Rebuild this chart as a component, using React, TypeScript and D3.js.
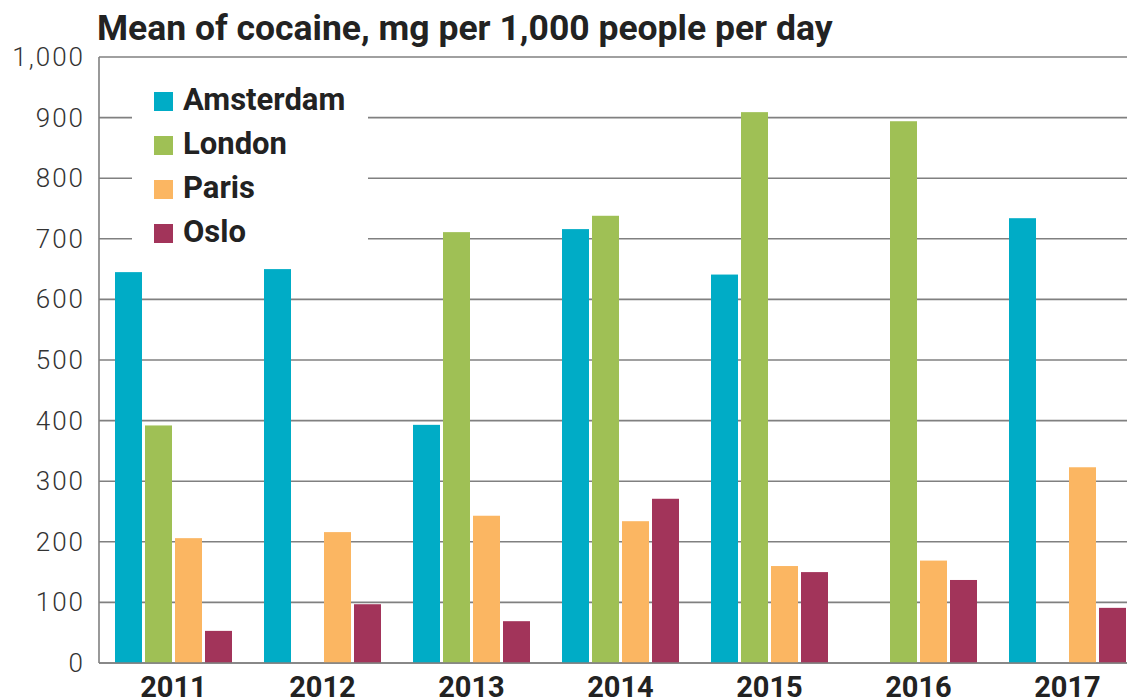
import React from "react";
import * as d3 from "d3";

const years = ["2011", "2012", "2013", "2014", "2015", "2016", "2017"];
const cities = ["Amsterdam", "London", "Paris", "Oslo"];
const amsterdam = [645, 650, 393, 716, 641, 0, 734];
const london = [392, 0, 711, 738, 909, 894, 0];
const paris = [206, 216, 243, 234, 160, 169, 323];
const oslo = [53, 97, 69, 271, 150, 137, 91];
const colors = ["#00acc6", "#9fc055", "#fbb662", "#a2345a"];
const yTicks = [0, 100, 200, 300, 400, 500, 600, 700, 800, 900, 1000];
const title = "Mean of cocaine, mg per 1,000 people per day";

const W = 1127;
const H = 700;
const left = 99;
const right = 1142;
const top = 57;
const bottom = 663;

export default function App() {
  const series = [amsterdam, london, paris, oslo];
  const x0 = d3.scaleBand<string>().domain(years).range([left, right]).paddingInner(0.2148).paddingOuter(0.1074);
  const x1 = d3.scaleBand<string>().domain(cities).range([0, x0.bandwidth()]).paddingInner(0.1);
  const y = d3.scaleLinear().domain([0, 1000]).range([bottom, top]);
  const fmt = d3.format(",");

  return (
    <svg width={W} height={H} style={{ position: "absolute", left: 0, top: 0, background: "#fff" }}>
      <rect x={0} y={0} width={W} height={H} fill="#fff" />
      <text x={97} y={40} fontFamily="Roboto, sans-serif" fontWeight={700} fontSize={35.5} fill="#222">
        {title}
      </text>
      {yTicks.map((t) => (
        <g key={t}>
          <line x1={left} x2={W} y1={y(t)} y2={y(t)} stroke="#808080" strokeWidth={1.6} />
          <text x={85} y={y(t) + 9} textAnchor="end" fontFamily="Roboto, sans-serif" fontWeight={300} fontSize={26} letterSpacing={2} fill="#333">
            {fmt(t)}
          </text>
        </g>
      ))}
      <line x1={left} x2={left} y1={top} y2={bottom} stroke="#808080" strokeWidth={1.6} />
      {/* legend background */}
      <rect x={132} y={80} width={236} height={176} fill="#fff" />
      {years.map((yr, i) => (
        <g key={yr} transform={`translate(${x0(yr)},0)`}>
          {series.map((s, j) => (
            <rect
              key={cities[j]}
              x={x1(cities[j])}
              y={y(s[i])}
              width={x1.bandwidth()}
              height={Math.max(0, bottom - y(s[i]))}
              fill={colors[j]}
            />
          ))}
          <text x={x0.bandwidth() / 2} y={697} textAnchor="middle" fontFamily="Roboto, sans-serif" fontWeight={700} fontSize={29} fill="#222">
            {yr}
          </text>
        </g>
      ))}
      <line x1={left} x2={W} y1={bottom} y2={bottom} stroke="#808080" strokeWidth={1.6} />
      {cities.map((c, j) => (
        <g key={c} transform={`translate(154,${101.5 + j * 44})`}>
          <rect x={0} y={-9.5} width={19} height={19} fill={colors[j]} />
          <text x={29} y={8} fontFamily="Roboto, sans-serif" fontWeight={700} fontSize={31} fill="#222">
            {c}
          </text>
        </g>
      ))}
    </svg>
  );
}
